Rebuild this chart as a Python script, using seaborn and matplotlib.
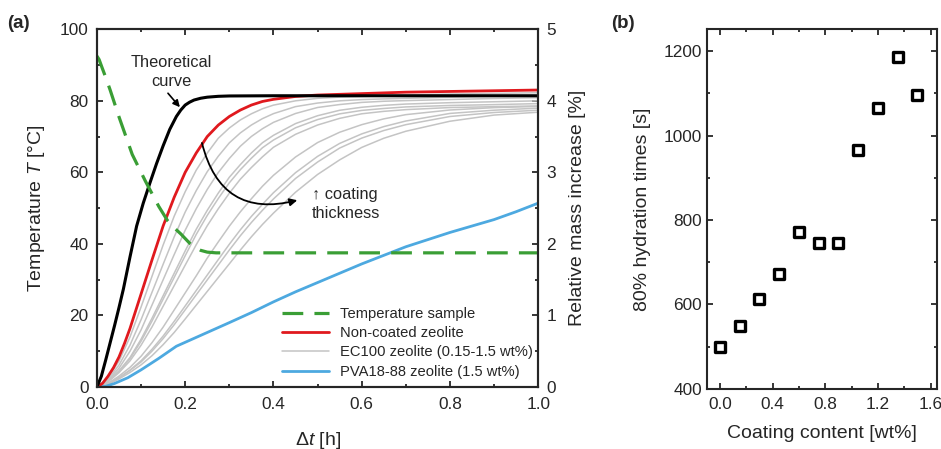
import matplotlib
matplotlib.use("Agg")
import matplotlib.pyplot as plt
from matplotlib.ticker import MultipleLocator
from matplotlib.lines import Line2D
import numpy as np
import pandas as pd
import seaborn as sns

# ---------------- data ----------------
# Theoretical hydration curve (relative mass increase, %)
theo_t = [0, .01, .02, .03, .04, .05, .06, .075, .09, .105, .12, .135, .15, .165, .18, .19, .2,
          .21, .22, .235, .25, .275, .3, .4, 1.0]
theo_m = [0, .15, .38, .62, .86, 1.11, 1.37, 1.82, 2.25, 2.57, 2.85, 3.12, 3.37, 3.6, 3.78, 3.87, 3.94,
          3.98, 4.01, 4.035, 4.05, 4.062, 4.067, 4.07, 4.07]

# Non-coated zeolite
red_t = [0, .0125, .025, .0375, .05, .0625, .075, .0875, .1, .125, .15, .175, .2, .225, .25, .275,
         .3, .325, .35, .375, .4, .45, .5, .6, .7, .8, .9, 1.0]
red_m = [0, .05, .15, .27, .42, .61, .82, 1.06, 1.30, 1.78, 2.25, 2.65, 3.0, 3.27, 3.5, 3.66,
         3.78, 3.87, 3.94, 3.99, 4.02, 4.06, 4.08, 4.10, 4.12, 4.13, 4.14, 4.15]

# EC100-coated zeolite, 0.15 ... 1.5 wt%
ec_t = [0, .025, .05, .075, .1, .125, .15, .175, .2, .225, .25, .275, .3, .325, .35, .375, .4,
        .45, .5, .55, .6, .65, .7, .8, .9, 1.0]
ec_015 = [0, .131, .362, .700, 1.118, 1.551, 1.984, 2.386, 2.729, 3.030, 3.269, 3.476, 3.619,
          3.732, 3.818, 3.888, 3.939, 3.999, 4.034, 4.051, 4.060, 4.069, 4.078, 4.094, 4.103, 4.112]
ec_030 = [0, .112, .307, .586, .940, 1.327, 1.715, 2.097, 2.445, 2.744, 3.009, 3.225, 3.412,
          3.551, 3.661, 3.750, 3.820, 3.918, 3.968, 3.999, 4.016, 4.026, 4.034, 4.049, 4.062, 4.070]
ec_045 = [0, .097, .263, .501, .798, 1.148, 1.498, 1.850, 2.191, 2.491, 2.761, 2.997, 3.193,
          3.365, 3.501, 3.609, 3.698, 3.822, 3.906, 3.947, 3.977, 3.993, 4.002, 4.017, 4.032, 4.043]
ec_060 = [0, .082, .226, .413, .668, .963, 1.276, 1.589, 1.902, 2.204, 2.469, 2.710, 2.931,
          3.108, 3.271, 3.413, 3.517, 3.681, 3.791, 3.867, 3.909, 3.936, 3.954, 3.973, 3.986, 3.999]
ec_075 = [0, .079, .218, .397, .640, .924, 1.228, 1.531, 1.835, 2.132, 2.398, 2.634, 2.854,
          3.037, 3.197, 3.343, 3.451, 3.622, 3.737, 3.817, 3.865, 3.892, 3.914, 3.934, 3.946, 3.960]
ec_090 = [0, .072, .201, .366, .584, .842, 1.129, 1.416, 1.703, 1.988, 2.254, 2.491, 2.708,
          2.904, 3.067, 3.216, 3.350, 3.531, 3.661, 3.754, 3.818, 3.852, 3.876, 3.905, 3.917, 3.928]
ec_105 = [0, .052, .153, .275, .430, .622, .837, 1.076, 1.315, 1.553, 1.802, 2.028, 2.247,
          2.448, 2.631, 2.805, 2.958, 3.214, 3.416, 3.560, 3.666, 3.747, 3.806, 3.871, 3.904, 3.921]
ec_120 = [0, .045, .132, .238, .367, .529, .712, .917, 1.133, 1.349, 1.565, 1.781, 1.995,
          2.197, 2.384, 2.553, 2.715, 2.995, 3.223, 3.404, 3.537, 3.639, 3.717, 3.823, 3.868, 3.897]
ec_135 = [0, .044, .127, .232, .350, .503, .677, .870, 1.079, 1.288, 1.497, 1.705, 1.914,
          2.114, 2.299, 2.469, 2.628, 2.914, 3.144, 3.339, 3.478, 3.584, 3.666, 3.780, 3.836, 3.868]
ec_150 = [0, .040, .113, .204, .310, .439, .592, .762, .951, 1.144, 1.336, 1.529, 1.721,
          1.914, 2.099, 2.271, 2.430, 2.722, 2.970, 3.174, 3.348, 3.476, 3.574, 3.714, 3.800, 3.840]

# PVA18-88-coated zeolite, 1.5 wt%
pva_t = [0, .02, .04, .07, .1, .14, .18, .22, .26, .3, .35, .4, .45, .5, .55, .6, .65, .7, .75,
         .8, .85, .9, .95, 1.0]
pva_m = [0, .01, .05, .13, .24, .40, .57, .68, .79, .9, 1.04, 1.19, 1.33, 1.46, 1.59, 1.72, 1.84,
         1.96, 2.06, 2.16, 2.25, 2.34, 2.45, 2.57]

# Sample temperature (°C)
temp_t = [0, .005, .01, .02, .03, .05, .08, .11, .14, .16, .175, .19, .2, .21, .22, .235, .25,
          .27, .3, 1.0]
temp_T = [92.5, 91.5, 89.8, 86.5, 83, 75.5, 65, 57.5, 50.5, 46.5, 44.5, 42.8, 41.5, 40.2, 39.2,
          38.2, 37.7, 37.5, 37.5, 37.5]

# 80 % hydration times vs. coating content
coating_wt = [0.0, 0.15, 0.30, 0.45, 0.60, 0.75, 0.90, 1.05, 1.20, 1.35, 1.50]
hydration_s = [500, 550, 612, 672, 772, 746, 746, 965, 1065, 1185, 1095]

# ---------------- style ----------------
sns.set_style("ticks")
plt.rcParams["font.family"] = ["Liberation Sans", "DejaVu Sans"]
plt.rcParams["mathtext.fontset"] = "custom"
plt.rcParams["mathtext.rm"] = "Liberation Sans"
plt.rcParams["mathtext.it"] = "Liberation Sans:italic"
plt.rcParams["axes.linewidth"] = 1.5

FS_TICK = 12.4
FS_LAB = 14.0
C_GREEN = "#3a9e35"
C_RED = "#e0191e"
C_BLUE = "#4da9e0"
C_GREY = "#c4c4c4"

fig = plt.figure(figsize=(9.41, 4.49), dpi=100)
ax = fig.add_axes([0.103, 0.138, 0.469, 0.797])
ax2 = ax.twinx()
axb = fig.add_axes([0.751, 0.134, 0.245, 0.801])

# ---------------- panel (a) ----------------
ec_sets = [ec_015, ec_030, ec_045, ec_060, ec_075, ec_090, ec_105, ec_120, ec_135, ec_150]
ec_df = pd.DataFrame({
    "t": np.tile(ec_t, len(ec_sets)),
    "m": np.concatenate(ec_sets),
    "curve": np.repeat(np.arange(len(ec_sets)), len(ec_t)),
})
sns.lineplot(data=ec_df, x="t", y="m", units="curve", estimator=None,
             color=C_GREY, lw=1.1, ax=ax2, legend=False)
sns.lineplot(x=pva_t, y=pva_m, color=C_BLUE, lw=2.0, ax=ax2, estimator=None)
sns.lineplot(x=red_t, y=red_m, color=C_RED, lw=2.0, ax=ax2, estimator=None)
sns.lineplot(x=theo_t, y=theo_m, color="black", lw=2.2, ax=ax2, estimator=None)

sns.lineplot(x=temp_t, y=temp_T, color=C_GREEN, lw=2.3, ax=ax, estimator=None)
ax.lines[-1].set_dashes([6.5, 3.5])

ax.set_zorder(ax2.get_zorder() + 1)
ax.patch.set_visible(False)

ax.set_xlim(0, 1)
ax.set_ylim(0, 100)
ax2.set_ylim(0, 5)
ax.xaxis.set_major_locator(MultipleLocator(0.2))
ax.xaxis.set_minor_locator(MultipleLocator(0.1))
ax.yaxis.set_major_locator(MultipleLocator(20))
ax.yaxis.set_minor_locator(MultipleLocator(10))
ax2.yaxis.set_major_locator(MultipleLocator(1))
ax2.yaxis.set_minor_locator(MultipleLocator(0.5))

ax.tick_params(axis="x", which="both", top=True, direction="in", labelsize=FS_TICK, width=1.3, pad=7)
ax.tick_params(axis="y", which="both", left=True, right=False, direction="in", labelsize=FS_TICK,
               width=1.3, pad=6)
ax2.tick_params(axis="y", which="both", right=True, direction="in", labelsize=FS_TICK, width=1.3, pad=6)
for a in (ax, ax2):
    a.tick_params(which="major", length=4.5)
    a.tick_params(which="minor", length=2.5)

ax.set_xlabel(r"Δ$t$ [h]", fontsize=FS_LAB, labelpad=13)
ax.set_ylabel(r"Temperature $T$ [°C]", fontsize=FS_LAB, labelpad=9)
ax2.set_ylabel("Relative mass increase [%]", fontsize=FS_LAB, labelpad=9)

ax.text(0.169, 88.0, "Theoretical\ncurve", ha="center", va="center", fontsize=11.8, linespacing=1.3)
ax.annotate("", xy=(0.188, 78.2), xytext=(0.161, 82.1),
            arrowprops=dict(arrowstyle="-|>", color="black", lw=1.2, mutation_scale=10,
                            shrinkA=0, shrinkB=0))
ax.text(0.487, 51.1, "↑ coating\nthickness", ha="left", va="center", fontsize=11.8, linespacing=1.3)
ax.annotate("", xy=(0.454, 52.2), xytext=(0.238, 68.2),
            arrowprops=dict(arrowstyle="-|>", color="black", lw=1.3, mutation_scale=11,
                            shrinkA=0, shrinkB=0, connectionstyle="arc3,rad=0.5"))

handles = [
    Line2D([], [], color=C_GREEN, lw=2.3, dashes=[6.5, 3.5]),
    Line2D([], [], color=C_RED, lw=2.0),
    Line2D([], [], color=C_GREY, lw=1.1),
    Line2D([], [], color=C_BLUE, lw=2.0),
]
labels = ["Temperature sample", "Non-coated zeolite",
          "EC100 zeolite (0.15-1.5 wt%)", "PVA18-88 zeolite (1.5 wt%)"]
ax.legend(handles, labels, loc="upper left", bbox_to_anchor=(0.42, 0.224),
          frameon=False, fontsize=10.6, handlelength=3.2, handletextpad=0.7,
          labelspacing=0.36, borderpad=0, borderaxespad=0)

# ---------------- panel (b) ----------------
sns.scatterplot(x=coating_wt, y=hydration_s, marker="s", s=50, color="white",
                edgecolor="black", linewidth=2.4, ax=axb, zorder=3)
axb.set_xlim(-0.1, 1.65)
axb.set_ylim(400, 1252)
axb.xaxis.set_major_locator(MultipleLocator(0.4))
axb.xaxis.set_minor_locator(MultipleLocator(0.2))
axb.yaxis.set_major_locator(MultipleLocator(200))
axb.yaxis.set_minor_locator(MultipleLocator(100))
axb.tick_params(which="both", top=True, right=True, direction="in", labelsize=FS_TICK, width=1.3)
axb.tick_params(axis="x", pad=6)
axb.tick_params(which="major", length=4.5)
axb.tick_params(which="minor", length=2.5)
axb.set_xlabel("Coating content [wt%]", fontsize=FS_LAB, labelpad=9)
axb.set_ylabel("80% hydration times [s]", fontsize=FS_LAB, labelpad=9)

fig.text(0.0075, 0.948, "(a)", fontsize=13.5, fontweight="bold", va="center", ha="left")
fig.text(0.649, 0.948, "(b)", fontsize=13.5, fontweight="bold", va="center", ha="left")

fig.savefig("out.png", dpi=100)
